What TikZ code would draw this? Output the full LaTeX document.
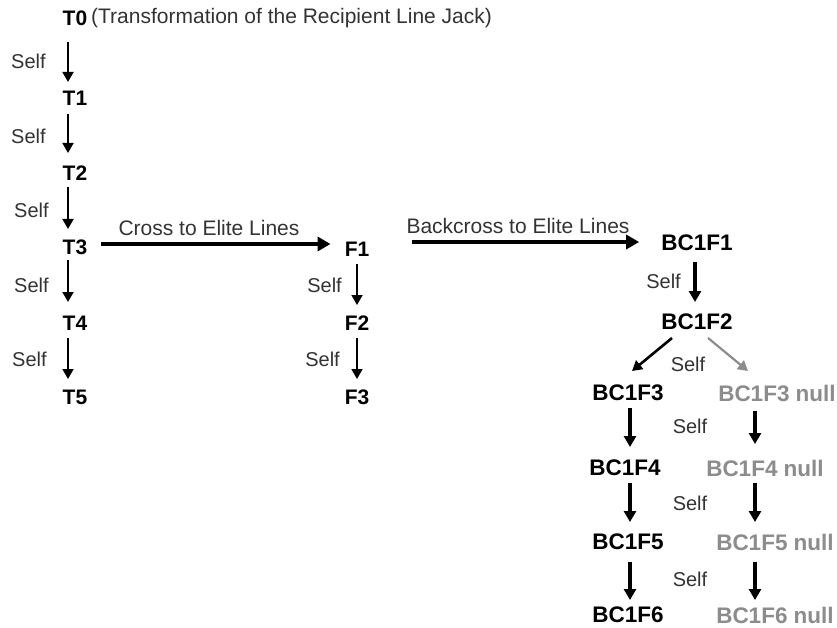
\documentclass[tikz,border=0pt]{standalone}
\usepackage{fontspec}
\setmainfont{Liberation Sans}
\usetikzlibrary{arrows.meta}
\definecolor{txt}{gray}{0.2}
\definecolor{nullc}{gray}{0.55}
\tikzset{
  tlab/.style={inner sep=0pt, font=\fontsize{21}{21}\selectfont\bfseries},
  bclab/.style={inner sep=0pt, font=\fontsize{22.5}{22.5}\selectfont\bfseries},
  nulllab/.style={bclab, text=nullc},
  reg/.style={inner sep=0pt, text=txt, font=\fontsize{20}{20}\selectfont},
  phrase/.style={reg, font=\fontsize{21}{21}\selectfont},
  thinarr/.style={line width=1.8pt, -{Triangle[length=10pt,width=11pt]}},
  thickarr/.style={line width=3.2pt, -{Triangle[length=11pt,width=12pt]}},
  crossarr/.style={line width=3.6pt, -{Triangle[length=13pt,width=14pt]}},
}
\begin{document}
\begin{tikzpicture}[x=1pt,y=-1pt]
\useasboundingbox[fill=white] (0,0) rectangle (837,628);
% T column
\node[tlab] (T0) at (75,18) {T0};
\node[phrase, anchor=west] (T0d) at (91,18) {(Transformation of the Recipient Line Jack)};
\node[tlab] (T1) at (75,98) {T1};
\node[tlab] (T2) at (75,173) {T2};
\node[tlab] (T3) at (75,247) {T3};
\node[tlab] (T4) at (75,323) {T4};
\node[tlab] (T5) at (75,397) {T5};
\draw[thinarr] ([xshift=-7pt,yshift=-24pt]T0.center) -- ([xshift=-7pt,yshift=16pt]T1.center);
\draw[thinarr] ([xshift=-7pt,yshift=-16pt]T1.center) -- ([xshift=-7pt,yshift=20pt]T2.center);
\draw[thinarr] ([xshift=-7pt,yshift=-14pt]T2.center) -- ([xshift=-7pt,yshift=18pt]T3.center);
\draw[thinarr] ([xshift=-7pt,yshift=-13pt]T3.center) -- ([xshift=-7pt,yshift=21pt]T4.center);
\draw[thinarr] ([xshift=-7pt,yshift=-15pt]T4.center) -- ([xshift=-7pt,yshift=18pt]T5.center);
\node[reg, anchor=west] (s1) at (11,61) {Self};
\node[reg, anchor=west] (s2) at (11,136) {Self};
\node[reg, anchor=west] (s3) at (14,210) {Self};
\node[reg, anchor=west] (s4) at (14,285) {Self};
\node[reg, anchor=west] (s5) at (12,359) {Self};
% F column
\node[tlab] (F1) at (357,249) {F1};
\node[tlab] (F2) at (357,323) {F2};
\node[tlab] (F3) at (357,397) {F3};
\draw[thinarr] ([yshift=-15pt]F1.center) -- ([yshift=18pt]F2.center);
\draw[thinarr] ([yshift=-15pt]F2.center) -- ([yshift=18pt]F3.center);
\node[reg, anchor=east] (s6) at (342,285) {Self};
\node[reg, anchor=east] (s7) at (340,359) {Self};
% BC column
\node[bclab] (BC1) at (697,243) {BC1F1};
\node[bclab] (BC2) at (697,322) {BC1F2};
% Cross arrows
\draw[crossarr] ([xshift=14pt,yshift=3pt]T3.east) -- ([xshift=-14pt,yshift=5pt]F1.west);
\node[phrase] (cl) at (209,228) {Cross to Elite Lines};
\draw[crossarr] ([xshift=43pt,yshift=7pt]F1.east) -- ([xshift=-22pt,yshift=1pt]BC1.west);
\node[phrase] (bl) at (518,226) {Backcross to Elite Lines};
\draw[thickarr] ([xshift=-2pt,yshift=-19pt]BC1.center) -- ([xshift=-2pt,yshift=20pt]BC2.center);
\node[reg, anchor=east] (s8) at (681,281) {Self};
\node[bclab] (BC3) at (628,393) {BC1F3};
\node[nulllab] (N3) at (777,393) {BC1F3 null};
\draw[line width=2.6pt, -{Triangle[length=10pt,width=11pt]}] ([xshift=-25pt,yshift=-16pt]BC2.center) -- ([xshift=4pt,yshift=22pt]BC3.center);
\draw[nullc, line width=2.2pt, -{Triangle[length=10pt,width=11pt]}] ([xshift=11pt,yshift=-16pt]BC2.center) -- ([xshift=-29pt,yshift=22pt]N3.center);
\node[reg] (s9) at (688,364) {Self};
\node[bclab] (BC4) at (625,468) {BC1F4};
\node[bclab] (BC5) at (628,542) {BC1F5};
\node[bclab] (BC6) at (628,615) {BC1F6};
\node[nulllab] (N4) at (765,468) {BC1F4 null};
\node[nulllab] (N5) at (775,542) {BC1F5 null};
\node[nulllab] (N6) at (775,615) {BC1F6 null};
\draw[thickarr] ([xshift=2pt,yshift=-15pt]BC3.center) -- ([xshift=5pt,yshift=21pt]BC4.center);
\draw[thickarr] ([xshift=5pt,yshift=-15pt]BC4.center) -- ([xshift=2pt,yshift=20pt]BC5.center);
\draw[thickarr] ([xshift=2pt,yshift=-20pt]BC5.center) -- ([xshift=2pt,yshift=15pt]BC6.center);
\draw[thickarr] ([xshift=-22pt,yshift=-18pt]N3.center) -- ([xshift=-10pt,yshift=24pt]N4.center);
\draw[thickarr] ([xshift=-10pt,yshift=-15pt]N4.center) -- ([xshift=-20pt,yshift=20pt]N5.center);
\draw[thickarr] ([xshift=-20pt,yshift=-20pt]N5.center) -- ([xshift=-20pt,yshift=15pt]N6.center);
\node[reg] (s10) at (690,426) {Self};
\node[reg] (s11) at (690,503) {Self};
\node[reg] (s12) at (690,579) {Self};
\end{tikzpicture}
\end{document}
